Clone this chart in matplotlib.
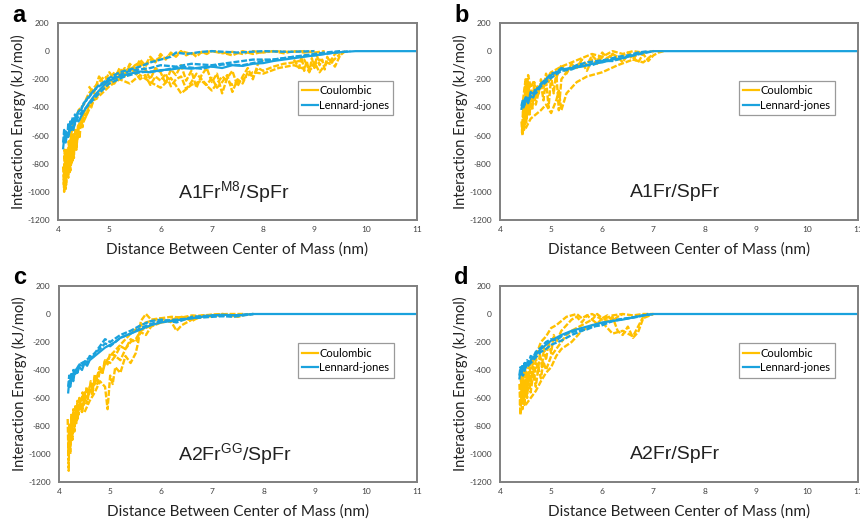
import matplotlib
matplotlib.use("Agg")
import matplotlib.pyplot as plt
from matplotlib.lines import Line2D

# ---------------- data ----------------
# Panel a : A1Fr^M8/SpFr
a_coul_x = [
    [4.10,4.12,4.14,4.16,4.18,4.20,4.22,4.24,4.26,4.28,4.30,4.32,4.35,4.38,4.42,4.46,4.5,4.55,4.6,4.7,4.8,4.9,5.0,5.1,5.2,5.3,5.4,5.5,5.6,5.7,5.8,5.9,6.0,6.1,6.2,6.3,6.4,6.5,6.6,6.7,6.8,6.9,7.0,7.1,7.2,7.3,7.4,7.5,7.6,7.7,7.8,7.9,8.0,8.2,8.4,8.6,8.8,8.9,9.0,9.1,9.2,9.3,9.4,9.5,9.6],
    [4.25,4.3,4.35,4.4,4.5,4.6,4.7,4.8,4.9,5.0,5.1,5.2,5.3,5.4,5.5,5.6,5.7,5.8,5.9,6.0,6.1,6.2,6.3,6.4,6.6,6.8,7.0,7.2,7.4,7.6,7.8,8.0,8.2,8.5,8.8,9.0,9.2],
    [4.15,4.2,4.25,4.3,4.35,4.4,4.5,4.6,4.7,4.8,5.0,5.2,5.4,5.6,5.8,6.0,6.2,6.4,6.6,6.8,7.0,7.2,7.4,7.6,7.8,8.0,8.3,8.6,8.9,9.1,9.3,9.5],
    [4.11,4.13,4.15,4.17,4.19,4.21,4.23,4.25,4.27,4.29,4.31,4.33,4.36,4.39,4.42,4.45,4.48,4.52,4.56,4.6,4.65,4.7,4.75,4.8,4.9,5.0,5.1,5.2,5.3,5.4,5.5,5.6,5.7,5.8,5.9,6.0,6.1,6.2,6.3,6.4,6.5,6.6,6.7,6.8,6.9,7.0,7.1,7.2,7.3,7.4,7.5,7.6,7.7,7.8,7.9,8.0],
    [4.6,4.7,4.8,4.9,5.0,5.1,5.2,5.3,5.4,5.5,5.6,5.7,5.8,5.9,6.0,6.1,6.2,6.3,6.4,6.5,6.6,6.7,6.8,6.9,7.0,7.2,7.4,7.6,7.8,8.0,8.2,8.4,8.6,8.8,9.0],
    [8.6,8.7,8.75,8.8,8.85,8.9,8.95,9.0,9.05,9.1,9.15,9.2,9.25,9.3,9.4,9.5],
]
a_coul_y = [
    [-820,-1000,-760,-950,-700,-900,-650,-850,-620,-780,-580,-700,-560,-620,-500,-520,-440,-460,-380,-330,-300,-260,-230,-220,-190,-170,-160,-150,-200,-170,-240,-180,-210,-160,-250,-200,-180,-270,-220,-160,-200,-240,-190,-260,-220,-170,-290,-200,-230,-150,-180,-120,-140,-110,-90,-80,-60,-130,-80,-150,-100,-60,-110,-30,0],
    [-600,-520,-480,-420,-380,-300,-260,-220,-180,-200,-150,-170,-120,-140,-100,-80,-110,-60,-70,-40,-50,-20,-30,0,-20,-10,0,-15,-5,-20,0,-10,0,-5,0,-10,0],
    [-900,-700,-820,-640,-700,-560,-500,-420,-350,-320,-250,-200,-230,-170,-220,-260,-190,-300,-240,-210,-280,-180,-240,-200,-150,-160,-120,-100,-140,-60,-90,-20],
    [-950,-700,-980,-720,-880,-640,-860,-600,-800,-620,-760,-560,-700,-520,-620,-480,-540,-420,-450,-380,-400,-330,-340,-280,-260,-200,-230,-150,-180,-100,-160,-90,-130,-200,-120,-150,-230,-130,-170,-100,-210,-140,-260,-170,-120,-220,-160,-300,-190,-140,-250,-180,-120,-200,-90,-60],
    [-250,-300,-180,-230,-150,-200,-120,-170,-90,-130,-60,-100,-40,-80,-20,-60,-10,-40,0,-30,-10,-40,-5,-20,0,-10,-30,0,-20,-5,0,-15,0,-10,0],
    [-60,-120,-40,-140,-70,-150,-50,-120,-30,-100,-60,-130,-40,-80,-20,0],
]
a_lj_x = [
    [4.10,4.12,4.15,4.18,4.2,4.25,4.3,4.35,4.4,4.5,4.6,4.7,4.8,4.9,5.0,5.2,5.4,5.6,5.8,6.0,6.2,6.4,6.6,6.8,7.0,7.2,7.4,7.6,7.8,8.0,8.2,8.4,8.6,8.8,9.0,9.2,9.4,9.6,9.8,11.0],
    [4.3,4.4,4.5,4.6,4.7,4.8,4.9,5.0,5.1,5.2,5.4,5.6,5.8,6.0,6.2,6.3,6.5,6.8,7.0,7.5,8.0,8.5,9.0],
    [4.12,4.15,4.2,4.25,4.3,4.4,4.5,4.6,4.8,5.0,5.3,5.6,6.0,6.4,6.8,7.2,7.6,8.0,8.4,8.8,9.2,9.5],
    [4.1,4.12,4.14,4.16,4.18,4.2,4.22,4.24,4.26,4.28,4.3,4.33,4.36,4.4,4.45,4.5,4.6,4.7,4.8,5.0,5.2,5.4,5.6,5.8,6.0,6.3,6.6,7.0,7.4,7.8,8.2,8.6,9.0,9.4,9.7],
]
a_lj_y = [
    [-690,-620,-650,-580,-600,-540,-560,-480,-500,-430,-370,-320,-280,-240,-210,-180,-160,-145,-150,-135,-130,-120,-125,-115,-110,-120,-100,-105,-90,-85,-70,-60,-50,-40,-30,-20,-10,-5,0,0],
    [-500,-430,-380,-320,-280,-240,-220,-190,-170,-150,-130,-110,-80,-60,-40,-10,-20,-5,0,-10,0,-5,0],
    [-640,-570,-610,-520,-540,-460,-420,-380,-300,-230,-180,-150,-140,-110,-125,-95,-100,-70,-50,-30,-10,0],
    [-650,-560,-640,-580,-620,-520,-580,-500,-560,-470,-520,-450,-480,-420,-420,-370,-330,-280,-250,-200,-170,-140,-130,-120,-100,-110,-90,-100,-80,-60,-60,-40,-30,-10,0],
]

# Panel b : A1Fr/SpFr
b_coul_x = [
    [4.42,4.44,4.46,4.48,4.5,4.52,4.55,4.58,4.6,4.63,4.66,4.7,4.75,4.8,4.85,4.9,4.95,5.0,5.05,5.1,5.15,5.2,5.3,5.4,5.5,5.6,5.7,5.8,5.9,6.0,6.1,6.2,6.3,6.4,6.5,6.6,6.7,6.8,6.9,7.0,7.1,7.2],
    [4.45,4.5,4.52,4.55,4.6,4.65,4.7,4.8,4.9,5.0,5.1,5.2,5.4,5.6,5.8,6.0,6.2,6.4,6.6,6.8,7.0],
    [4.5,4.6,4.7,4.8,4.9,5.0,5.1,5.15,5.2,5.3,5.5,5.7,6.0,6.3,6.6,6.8,7.0],
    [4.43,4.45,4.47,4.49,4.51,4.53,4.55,4.57,4.59,4.61,4.64,4.67,4.7,4.73,4.76,4.8,4.85,4.9,4.95,5.0,5.1,5.2,5.3,5.4,5.5,5.6,5.7,5.8,5.9,6.0,6.1,6.2,6.3,6.4,6.5,6.6,6.7,6.8],
]
b_coul_y = [
    [-500,-600,-380,-540,-300,-480,-250,-450,-330,-420,-280,-380,-300,-230,-350,-200,-400,-180,-300,-150,-420,-200,-150,-120,-100,-80,-140,-60,-90,-40,-70,-20,-60,-30,-10,-40,-80,-20,-70,-30,-10,0],
    [-350,-200,-280,-170,-260,-220,-300,-250,-200,-150,-130,-110,-80,-50,-20,-40,0,-20,0,-10,0],
    [-550,-480,-450,-420,-380,-440,-350,-280,-420,-300,-220,-180,-150,-100,-60,-80,-20],
    [-580,-420,-560,-250,-520,-200,-450,-230,-400,-280,-380,-220,-330,-250,-300,-200,-260,-160,-220,-140,-190,-100,-160,-90,-120,-60,-100,-30,-70,-10,-50,-20,-40,-80,-20,-60,-10,-30],
]
b_lj_x = [
    [4.42,4.44,4.47,4.5,4.55,4.6,4.65,4.7,4.8,4.9,5.0,5.1,5.2,5.4,5.6,5.8,6.0,6.2,6.4,6.6,6.8,7.0,7.2,11.0],
    [4.43,4.46,4.5,4.55,4.6,4.7,4.8,4.9,5.0,5.2,5.4,5.6,5.8,6.0,6.2,6.5,6.8,7.0],
    [4.42,4.45,4.48,4.52,4.56,4.6,4.65,4.7,4.75,4.8,4.9,5.0,5.1,5.2,5.3,5.5,5.7,5.9,6.1,6.3,6.5,6.7,6.9],
]
b_lj_y = [
    [-410,-370,-390,-350,-360,-320,-330,-280,-240,-200,-170,-150,-130,-120,-110,-90,-80,-60,-50,-30,-10,0,0,0],
    [-380,-400,-330,-370,-300,-300,-250,-220,-190,-140,-130,-100,-100,-70,-70,-40,-15,0],
    [-390,-340,-380,-320,-350,-290,-310,-260,-270,-230,-200,-160,-150,-120,-130,-100,-80,-70,-60,-40,-30,-10,0],
]

# Panel c : A2Fr^GG/SpFr
c_coul_x = [
    [4.17,4.19,4.2,4.22,4.24,4.26,4.28,4.3,4.33,4.36,4.4,4.45,4.5,4.55,4.6,4.65,4.7,4.75,4.8,4.85,4.9,5.0,5.1,5.2,5.3,5.4,5.5,5.6,5.7,5.8,5.9,6.0,6.2,6.4,6.6,6.8,7.0,7.2,7.4,7.6,7.8],
    [4.2,4.25,4.3,4.35,4.4,4.45,4.5,4.6,4.7,4.8,4.85,4.9,5.0,5.1,5.2,5.3,5.4,5.5,5.6,5.7,5.8,6.0,6.2,6.4,6.6,6.8,7.0,7.3,7.6],
    [4.5,4.6,4.7,4.8,4.9,4.95,5.0,5.05,5.1,5.2,5.3,5.4,5.5,5.55,5.6,5.7,5.8,6.0,6.2,6.3,6.4,6.6,6.8,7.0,7.2,7.5,7.7],
    [4.18,4.2,4.22,4.24,4.26,4.28,4.3,4.32,4.34,4.36,4.38,4.4,4.43,4.46,4.5,4.54,4.58,4.62,4.66,4.7,4.75,4.8,4.85,4.9,4.95,5.0,5.1,5.2,5.3,5.4,5.5,5.6,5.7,5.8,6.0,6.2,6.4,6.6,6.8,7.0,7.2,7.4,7.6],
]
c_coul_y = [
    [-750,-1120,-800,-1000,-720,-900,-680,-820,-650,-760,-600,-700,-560,-640,-520,-580,-450,-500,-400,-420,-350,-300,-260,-220,-180,-140,-110,-80,-60,-50,-40,-30,-20,-25,-10,-15,-5,0,-10,-5,0],
    [-850,-780,-700,-740,-650,-700,-620,-560,-500,-380,-420,-330,-350,-300,-330,-250,-200,-180,-120,-100,-80,-60,-50,-30,-20,-10,-5,0,0],
    [-700,-620,-560,-480,-520,-680,-440,-500,-380,-420,-300,-350,-280,-200,-50,0,-40,-30,-60,-120,-80,-40,-20,-10,-5,-20,0],
    [-1000,-780,-950,-760,-880,-700,-840,-660,-780,-620,-720,-600,-680,-560,-640,-520,-580,-480,-540,-430,-470,-380,-420,-330,-360,-280,-300,-230,-250,-180,-200,-130,-150,-90,-60,-40,-20,-50,-10,-20,0,-15,0],
]
c_lj_x = [
    [4.18,4.2,4.22,4.25,4.28,4.3,4.35,4.4,4.45,4.5,4.55,4.6,4.7,4.8,4.9,5.0,5.1,5.2,5.4,5.6,5.8,6.0,6.2,6.4,6.6,6.8,7.0,7.2,7.5,7.8,8.0,11.0],
    [4.2,4.3,4.4,4.5,4.6,4.7,4.8,4.9,5.0,5.2,5.4,5.6,5.8,6.0,6.3,6.6,7.0,7.4,7.8],
    [4.18,4.2,4.22,4.24,4.26,4.28,4.3,4.33,4.36,4.4,4.45,4.5,4.55,4.6,4.65,4.7,4.8,4.9,5.0,5.2,5.4,5.6,5.8,6.0,6.3,6.6,7.0,7.4,7.8],
]
c_lj_y = [
    [-560,-480,-520,-450,-480,-430,-420,-380,-400,-350,-370,-330,-300,-270,-240,-220,-200,-170,-140,-110,-80,-60,-50,-40,-30,-20,-10,-5,-10,0,0,0],
    [-500,-420,-360,-340,-310,-280,-230,-180,-200,-150,-120,-80,-50,-40,-60,-20,-10,-20,0],
    [-520,-440,-500,-420,-470,-400,-440,-390,-420,-360,-380,-330,-350,-300,-320,-280,-250,-210,-230,-170,-140,-100,-70,-50,-40,-30,-20,-10,0],
]

# Panel d : A2Fr/SpFr
d_coul_x = [
    [4.38,4.4,4.42,4.44,4.46,4.48,4.5,4.53,4.56,4.6,4.65,4.7,4.75,4.8,4.85,4.9,5.0,5.1,5.2,5.3,5.4,5.5,5.6,5.7,5.8,5.9,6.0,6.1,6.2,6.3,6.4,6.5,6.6,6.7,6.8,7.0],
    [4.4,4.45,4.5,4.6,4.7,4.8,4.9,5.0,5.1,5.2,5.3,5.4,5.5,5.6,5.7,5.8,5.9,6.0,6.2,6.4,6.6,6.8,7.0],
    [4.5,4.6,4.7,4.8,4.9,5.0,5.1,5.2,5.4,5.6,5.8,6.0,6.2,6.4,6.6,6.8],
    [4.39,4.41,4.43,4.45,4.47,4.49,4.51,4.53,4.55,4.58,4.61,4.64,4.67,4.7,4.74,4.78,4.82,4.86,4.9,4.95,5.0,5.05,5.1,5.2,5.3,5.4,5.5,5.6,5.7,5.8,5.9,6.0,6.1,6.2,6.3,6.4],
]
d_coul_y = [
    [-500,-720,-550,-680,-480,-650,-500,-600,-450,-560,-420,-520,-380,-460,-340,-400,-300,-250,-200,-150,-120,-100,-80,-60,-40,-70,-30,-50,-20,-120,-150,-90,-170,-130,-30,0],
    [-450,-400,-420,-350,-300,-200,-160,-100,-80,-50,-20,-10,0,-30,-10,0,-20,-40,-10,0,-10,0,0],
    [-650,-600,-550,-480,-420,-380,-300,-250,-200,-120,-80,-60,-140,-120,-160,-20],
    [-650,-450,-620,-420,-600,-380,-560,-420,-540,-360,-500,-330,-480,-300,-420,-280,-380,-240,-330,-200,-280,-150,-200,-120,-80,-40,-20,-60,-10,-40,0,-30,-10,-50,-20,0],
]
d_lj_x = [
    [4.38,4.4,4.42,4.45,4.48,4.5,4.55,4.6,4.7,4.8,4.9,5.0,5.1,5.2,5.4,5.6,5.8,6.0,6.2,6.4,6.6,6.8,7.0,7.2,11.0],
    [4.4,4.45,4.5,4.6,4.7,4.8,4.9,5.0,5.2,5.4,5.6,5.8,6.0,6.2,6.5,6.8,7.0],
    [4.38,4.4,4.42,4.44,4.46,4.48,4.5,4.53,4.56,4.6,4.65,4.7,4.8,4.9,5.0,5.1,5.2,5.3,5.5,5.7,5.9,6.1,6.3,6.5,6.7,6.9],
]
d_lj_y = [
    [-460,-400,-430,-380,-400,-360,-370,-330,-290,-250,-220,-190,-170,-150,-120,-100,-80,-60,-50,-40,-25,-10,0,0,0],
    [-420,-440,-380,-350,-310,-270,-250,-220,-190,-150,-120,-90,-80,-50,-30,-10,0],
    [-440,-380,-420,-360,-400,-350,-380,-330,-350,-300,-310,-270,-240,-200,-180,-190,-160,-140,-120,-110,-80,-60,-40,-30,-20,0],
]

panel_letters = ["a", "b", "c", "d"]
panel_titles = [r"A1Fr$^{\mathregular{M8}}$/SpFr", "A1Fr/SpFr",
                r"A2Fr$^{\mathregular{GG}}$/SpFr", "A2Fr/SpFr"]
series_labels = ["Coulombic", "Lennard-jones"]
x_ticks = [4, 5, 6, 7, 8, 9, 10, 11]
y_ticks = [200, 0, -200, -400, -600, -800, -1000, -1200]
x_label = "Distance Between Center of Mass (nm)"
y_label = "Interaction Energy (kJ/mol)"

# ---------------- drawing ----------------
ORANGE = "#FFC000"
BLUE = "#1AA2DD"
W, H = 860, 523
fig = plt.figure(figsize=(W / 100, H / 100), dpi=100)

# axes pixel boxes: (left, top, right, bottom)
boxes = [(58, 23, 417, 220), (500, 23, 858, 220),
         (59, 286, 417, 482), (500, 286, 858, 482)]
data = [(a_coul_x, a_coul_y, a_lj_x, a_lj_y),
        (b_coul_x, b_coul_y, b_lj_x, b_lj_y),
        (c_coul_x, c_coul_y, c_lj_x, c_lj_y),
        (d_coul_x, d_coul_y, d_lj_x, d_lj_y)]

for i, (box, dd) in enumerate(zip(boxes, data)):
    l, t, r, b = box
    ax = fig.add_axes([l / W, 1 - b / H, (r - l) / W, (b - t) / H])
    cx, cy, lx, ly = dd
    for xs, ys in zip(cx, cy):
        ax.plot(xs, ys, color=ORANGE, lw=1.7, dashes=(2.5, 0.8))
    for k, (xs, ys) in enumerate(zip(lx, ly)):
        if k == 0:
            ax.plot(xs, ys, color=BLUE, lw=1.6, solid_joinstyle="round")
        else:
            ax.plot(xs, ys, color=BLUE, lw=1.7, dashes=(2.5, 0.8))
    ax.set_xlim(4, 11)
    ax.set_ylim(-1200, 200)
    ax.set_xticks(x_ticks)
    ax.set_yticks(y_ticks)
    ax.set_xticklabels([str(v) for v in x_ticks], family="Lato")
    ax.set_yticklabels([str(v) for v in y_ticks], family="Lato")
    ax.tick_params(axis="y", length=0, labelsize=6, colors="#404040", pad=6)
    ax.tick_params(axis="x", length=0, labelsize=6, colors="#404040", pad=4)
    for s in ax.spines.values():
        s.set_color("#7f7f7f")
        s.set_linewidth(1.4)
    ax.set_xlabel(x_label, fontsize=11, family="Lato", color="#222222", labelpad=7)
    ax.set_ylabel(y_label, fontsize=10.5, family="Lato", color="#222222", labelpad=1)
    ax.text(0.49, 0.14, panel_titles[i], transform=ax.transAxes, ha="center",
            va="center", fontsize=14, family="Liberation Sans", color="#222222")
    handles = [Line2D([], [], color=ORANGE, lw=1.6), Line2D([], [], color=BLUE, lw=1.6)]
    leg = ax.legend(handles, series_labels, loc="upper right",
                    bbox_to_anchor=(0.95, 0.735),
                    prop={"family": "Lato", "size": 8},
                    handlelength=1.4, handletextpad=0.1, borderpad=0.4,
                    labelspacing=0.3, fancybox=False, framealpha=1)
    leg.get_frame().set_edgecolor("#9a9a9a")
    leg.get_frame().set_linewidth(0.9)
    fig.text((l - 46) / W, 1 - (t - 8) / H, panel_letters[i], fontsize=17,
             fontweight="bold", family="Liberation Sans", va="center", ha="left")

fig.savefig("out.png", dpi=100)
